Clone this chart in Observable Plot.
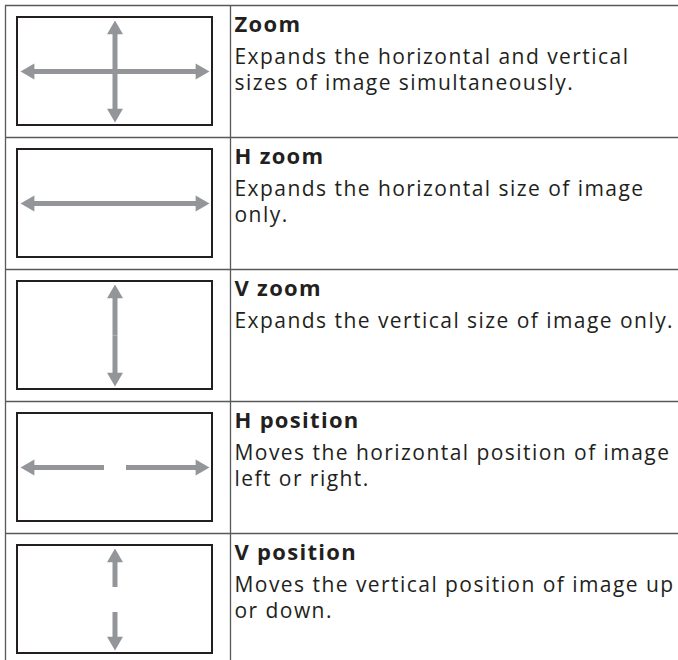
<!DOCTYPE html>
<html>
<head>
<meta charset="utf-8">
<script src="https://cdn.jsdelivr.net/npm/d3@7"></script>
<script src="https://cdn.jsdelivr.net/npm/@observablehq/plot@0.6"></script>
<style>
  html, body { margin: 0; padding: 0; background: #fff; }
  svg { display: block; }
  svg g.desc text { letter-spacing: 1.45px; }
  svg g.title text { letter-spacing: 1.3px; }
</style>
</head>
<body>
<div id="chart"></div>
<script>
// ---- data ----
const titles = ["Zoom", "H zoom", "V zoom", "H position", "V position"];
const descriptions = [
  "Expands the horizontal and vertical\nsizes of image simultaneously.",
  "Expands the horizontal size of image\nonly.",
  "Expands the vertical size of image only.",
  "Moves the horizontal position of image\nleft or right.",
  "Moves the vertical position of image up\nor down."
];
const arrowTypes = ["cross", "horizontal", "vertical", "horizontal-split", "vertical-split"];

// ---- layout ----
const W = 678, H = 660;
const top0 = 5, rowH = 132, left0 = 5, colX = 230;
const boxX1 = 17, boxX2 = 212, boxDy1 = 12, boxDy2 = 120;
const cx = 114.5, midDy = 66;
const hHalf = 94.5, vHalf = 51, gapH = 11, gapV = 12.5;
const headLen = 13.9, headCentroid = 9.24, headR = 5.94;
const fs = 21, fsTitle = 22;

const rows = titles.map((t, i) => ({
  i, title: t, desc: descriptions[i], type: arrowTypes[i],
  top: top0 + i * rowH
}));

// arrows: tail -> tip
const arrows = [];
for (const r of rows) {
  const cy = r.top + midDy;
  const add = (x1, y1, x2, y2) => arrows.push({x1, y1, x2, y2});
  if (r.type === "cross" || r.type === "horizontal") {
    add(cx, cy, cx - hHalf, cy); add(cx, cy, cx + hHalf, cy);
  }
  if (r.type === "cross" || r.type === "vertical") {
    add(cx, cy, cx, cy - vHalf); add(cx, cy, cx, cy + vHalf);
  }
  if (r.type === "horizontal-split") {
    add(cx - gapH, cy, cx - hHalf, cy); add(cx + gapH, cy, cx + hHalf, cy);
  }
  if (r.type === "vertical-split") {
    add(cx, cy - gapV, cx, cy - vHalf); add(cx, cy + gapV, cx, cy + vHalf);
  }
}
const shafts = arrows.map(a => {
  const dx = Math.sign(a.x2 - a.x1), dy = Math.sign(a.y2 - a.y1);
  return {x1: a.x1, y1: a.y1, x2: a.x2 - dx * (headLen - 1.5), y2: a.y2 - dy * (headLen - 1.5)};
});
const heads = arrows.map(a => {
  const dx = Math.sign(a.x2 - a.x1), dy = Math.sign(a.y2 - a.y1);
  const rot = dx > 0 ? 90 : dx < 0 ? -90 : dy > 0 ? 180 : 0;
  return {x: a.x2 - dx * headCentroid, y: a.y2 - dy * headCentroid, rot};
});

const dividers = rows.map(r => r.top);

const chart = Plot.plot({
  width: W, height: H,
  margin: 0,
  x: {domain: [0, W], range: [0, W], axis: null},
  y: {domain: [0, H], range: [0, H], axis: null},
  style: {fontFamily: "'Open Sans', sans-serif", background: "#fff"},
  marks: [
    // table lines
    Plot.ruleY(dividers, {y: d => d, x1: left0, x2: W, stroke: "#595959", strokeWidth: 1.3}),
    Plot.ruleX([left0, colX], {x: d => d, y1: top0, y2: H, stroke: "#595959", strokeWidth: 1.3}),
    // inner boxes
    Plot.rect(rows, {x1: boxX1, x2: boxX2, y1: d => d.top + boxDy1, y2: d => d.top + boxDy2,
      fill: "none", stroke: "#231f20", strokeWidth: 2}),
    // arrows
    Plot.link(shafts, {x1: "x1", y1: "y1", x2: "x2", y2: "y2", stroke: "#939598", strokeWidth: 5, strokeLinecap: "butt"}),
    Plot.dot(heads, {x: "x", y: "y", symbol: "triangle", r: headR, rotate: "rot", fill: "#939598", stroke: "none"}),
    // text
    Plot.text(rows, {x: colX + 4, y: d => d.top + 26.5 - 0.71 * fsTitle, text: "title", textAnchor: "start", lineAnchor: "top",
      fontSize: fsTitle, fontWeight: "bold", fill: "#231f20", className: "title"}),
    Plot.text(rows, {x: colX + 4, y: d => d.top + 55 - 0.71 * fs, text: "desc", textAnchor: "start", lineAnchor: "top",
      fontSize: fs, lineHeight: 26 / fs, fill: "#231f20", className: "desc"})
  ]
});
document.getElementById("chart").appendChild(chart);
</script>
</body>
</html>
